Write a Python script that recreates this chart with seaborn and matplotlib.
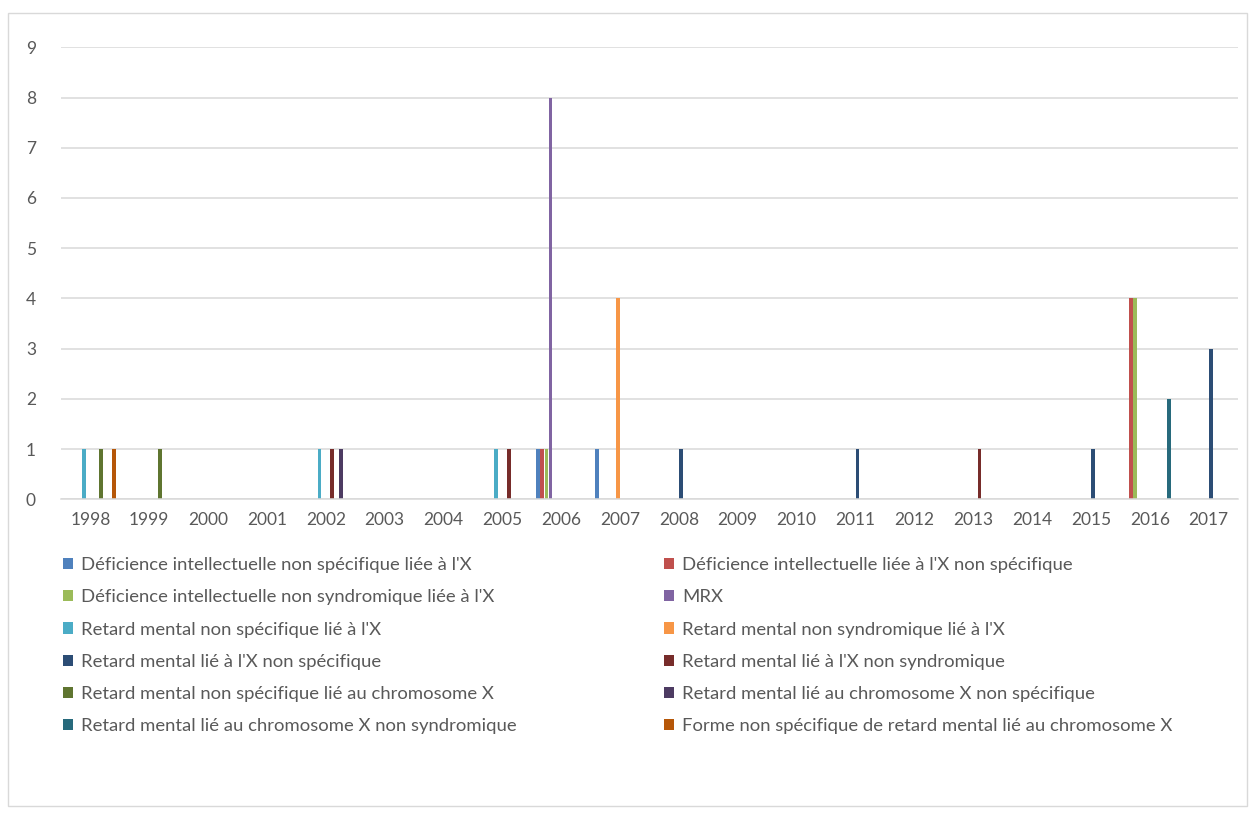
import matplotlib
matplotlib.use("Agg")
import matplotlib.pyplot as plt
from matplotlib.patches import Patch, Rectangle
import pandas as pd
import seaborn as sns


YEARS = [str(y) for y in range(1998, 2018)]

SERIES = [
    "Déficience intellectuelle non spécifique liée à l'X",
    "Déficience intellectuelle liée à l'X non spécifique",
    "Déficience intellectuelle non syndromique liée à l'X",
    "MRX",
    "Retard mental non spécifique lié à l'X",
    "Retard mental non syndromique lié à l'X",
    "Retard mental lié à l'X non spécifique",
    "Retard mental lié à l'X non syndromique",
    "Retard mental non spécifique lié au chromosome X",
    "Retard mental lié au chromosome X non spécifique",
    "Retard mental lié au chromosome X non syndromique",
    "Forme non spécifique de retard mental lié au chromosome X",
]

COLORS = ["#4F81BD", "#C0504D", "#9BBB59", "#8064A2", "#4BACC6", "#F79646",
          "#2C4D75", "#772C2A", "#5F7530", "#4D3B62", "#276A7C", "#B65708"]

#                 98 99 00 01 02 03 04 05 06 07 08 09 10 11 12 13 14 15 16 17
di_nonspec_x   = [0, 0, 0, 0, 0, 0, 0, 0, 1, 1, 0, 0, 0, 0, 0, 0, 0, 0, 0, 0]
di_x_nonspec   = [0, 0, 0, 0, 0, 0, 0, 0, 1, 0, 0, 0, 0, 0, 0, 0, 0, 0, 4, 0]
di_nonsynd_x   = [0, 0, 0, 0, 0, 0, 0, 0, 1, 0, 0, 0, 0, 0, 0, 0, 0, 0, 4, 0]
mrx            = [0, 0, 0, 0, 0, 0, 0, 0, 8, 0, 0, 0, 0, 0, 0, 0, 0, 0, 0, 0]
rm_nonspec_x   = [1, 0, 0, 0, 1, 0, 0, 1, 0, 0, 0, 0, 0, 0, 0, 0, 0, 0, 0, 0]
rm_nonsynd_x   = [0, 0, 0, 0, 0, 0, 0, 0, 0, 4, 0, 0, 0, 0, 0, 0, 0, 0, 0, 0]
rm_x_nonspec   = [0, 0, 0, 0, 0, 0, 0, 0, 0, 0, 1, 0, 0, 1, 0, 0, 0, 1, 0, 3]
rm_x_nonsynd   = [0, 0, 0, 0, 1, 0, 0, 1, 0, 0, 0, 0, 0, 0, 0, 1, 0, 0, 0, 0]
rm_nonspec_chx = [1, 1, 0, 0, 0, 0, 0, 0, 0, 0, 0, 0, 0, 0, 0, 0, 0, 0, 0, 0]
rm_chx_nonspec = [0, 0, 0, 0, 1, 0, 0, 0, 0, 0, 0, 0, 0, 0, 0, 0, 0, 0, 0, 0]
rm_chx_nonsynd = [0, 0, 0, 0, 0, 0, 0, 0, 0, 0, 0, 0, 0, 0, 0, 0, 0, 0, 2, 0]
forme_nonspec  = [1, 0, 0, 0, 0, 0, 0, 0, 0, 0, 0, 0, 0, 0, 0, 0, 0, 0, 0, 0]

VALUES = [di_nonspec_x, di_x_nonspec, di_nonsynd_x, mrx, rm_nonspec_x, rm_nonsynd_x,
          rm_x_nonspec, rm_x_nonsynd, rm_nonspec_chx, rm_chx_nonspec, rm_chx_nonsynd,
          forme_nonspec]

rows = []
for name, vals in zip(SERIES, VALUES):
    for year, v in zip(YEARS, vals):
        rows.append({"year": year, "series": name, "count": v})
df = pd.DataFrame(rows)

sns.set_style("white")
plt.rcParams["font.family"] = ["Lato", "DejaVu Sans"]

W, H = 1255, 817
fig = plt.figure(figsize=(W / 100, H / 100), dpi=100)
ax = fig.add_axes([61 / W, 1 - 499.2 / H, (1238 - 61) / W, (499.2 - 47.4) / H])

sns.barplot(data=df, x="year", y="count", hue="series", order=YEARS, hue_order=SERIES,
            palette=COLORS, saturation=1, width=0.865, gap=0.12, linewidth=0,
            errorbar=None, legend=False, ax=ax)

ax.set_xlim(-0.5, len(YEARS) - 0.5)
ax.set_ylim(0, 9)
ax.set_yticks(range(0, 10))
ax.yaxis.grid(True, color="#D9D9D9", linewidth=1.1)
ax.set_axisbelow(True)
for side in ["left", "right", "top"]:
    ax.spines[side].set_visible(False)
ax.spines["bottom"].set_color("#D9D9D9")
ax.spines["bottom"].set_linewidth(1.1)
ax.tick_params(axis="both", length=0, labelsize=12.5, colors="#595959")
ax.tick_params(axis="y", pad=18)
ax.tick_params(axis="x", pad=9)
ax.set_xlabel("")
ax.set_ylabel("")

# legend: two columns, filled row by row like the original
handles = [Patch(facecolor=c, edgecolor="none") for c in COLORS]
for col, x0 in enumerate([63, 664]):
    idx = list(range(col, len(SERIES), 2))
    fig.legend([handles[i] for i in idx], [SERIES[i] for i in idx],
               loc="upper left", bbox_to_anchor=(x0 / W, 1 - 557 / H),
               frameon=False, fontsize=13.3, labelcolor="#595959",
               handlelength=0.55, handleheight=0.55, handletextpad=0.45,
               labelspacing=0.88, borderaxespad=0, borderpad=0)

fig.patches.append(Rectangle((8 / W, 1 - 806 / H), (1247 - 8) / W, (806 - 13) / H,
                             transform=fig.transFigure, fill=False,
                             edgecolor="#D9D9D9", linewidth=1))

fig.savefig("out.png", dpi=100)
